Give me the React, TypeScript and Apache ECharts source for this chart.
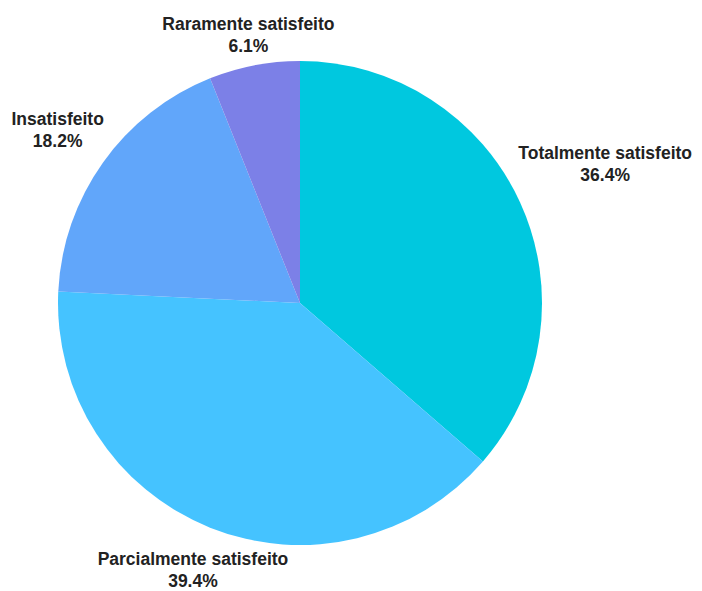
import React, { useEffect, useRef } from "react";
import * as echarts from "echarts";

const categories = [
  "Totalmente satisfeito",
  "Parcialmente satisfeito",
  "Insatisfeito",
  "Raramente satisfeito",
];
const values = [12, 13, 6, 2];
const colors = ["#00C8DF", "#45C3FF", "#61A6FA", "#7C80E7"];

const CX = 300;
const CY = 303;
const R = 242;
const GAP = 8;

export default function App() {
  const ref = useRef<HTMLDivElement>(null);
  useEffect(() => {
    if (!ref.current) return;
    const chart = echarts.init(ref.current, null, { renderer: "svg" });
    const total = values.reduce((a, b) => a + b, 0);
    const mids: number[] = [];
    let acc = 0;
    values.forEach((v) => {
      mids.push(((acc + v / 2) / total) * Math.PI * 2);
      acc += v;
    });
    chart.setOption({
      animation: false,
      backgroundColor: "#ffffff",
      series: [
        {
          type: "pie",
          center: [CX, CY],
          radius: R,
          startAngle: 90,
          clockwise: true,
          avoidLabelOverlap: false,
          data: categories.map((c, i) => ({
            name: c,
            value: values[i],
            itemStyle: { color: colors[i] },
          })),
          label: {
            show: true,
            position: "outside",
            overflow: "none",
            formatter: (p: any) =>
              `${p.name}\n${((p.value / total) * 100).toFixed(1)}%`,
            color: "#222222",
            fontWeight: "bold",
            fontSize: 17.5,
            lineHeight: 22,
            fontFamily: "'Liberation Sans', Arial, sans-serif",
            align: "center",
          },
          labelLine: { show: false },
          emphasis: { disabled: true },
          labelLayout: (params: any) => {
            const th = mids[params.dataIndex];
            const dx = Math.sin(th);
            const dy = -Math.cos(th);
            const w = params.labelRect.width;
            const h = params.labelRect.height - 9;
            let d = R;
            for (; d < R + 400; d += 0.5) {
              const bx = CX + d * dx;
              const by = CY + d * dy;
              const ex = Math.max(0, Math.abs(bx - CX) - w / 2);
              const ey = Math.max(0, Math.abs(by - CY) - h / 2);
              if (Math.hypot(ex, ey) >= R + GAP) break;
            }
            return {
              x: CX + d * dx,
              y: CY + d * dy,
              align: "center",
              verticalAlign: "middle",
            };
          },
        },
      ],
    });
    return () => chart.dispose();
  }, []);
  return (
    <div
      ref={ref}
      style={{ position: "absolute", left: 0, top: 0, width: 702, height: 591 }}
    />
  );
}
